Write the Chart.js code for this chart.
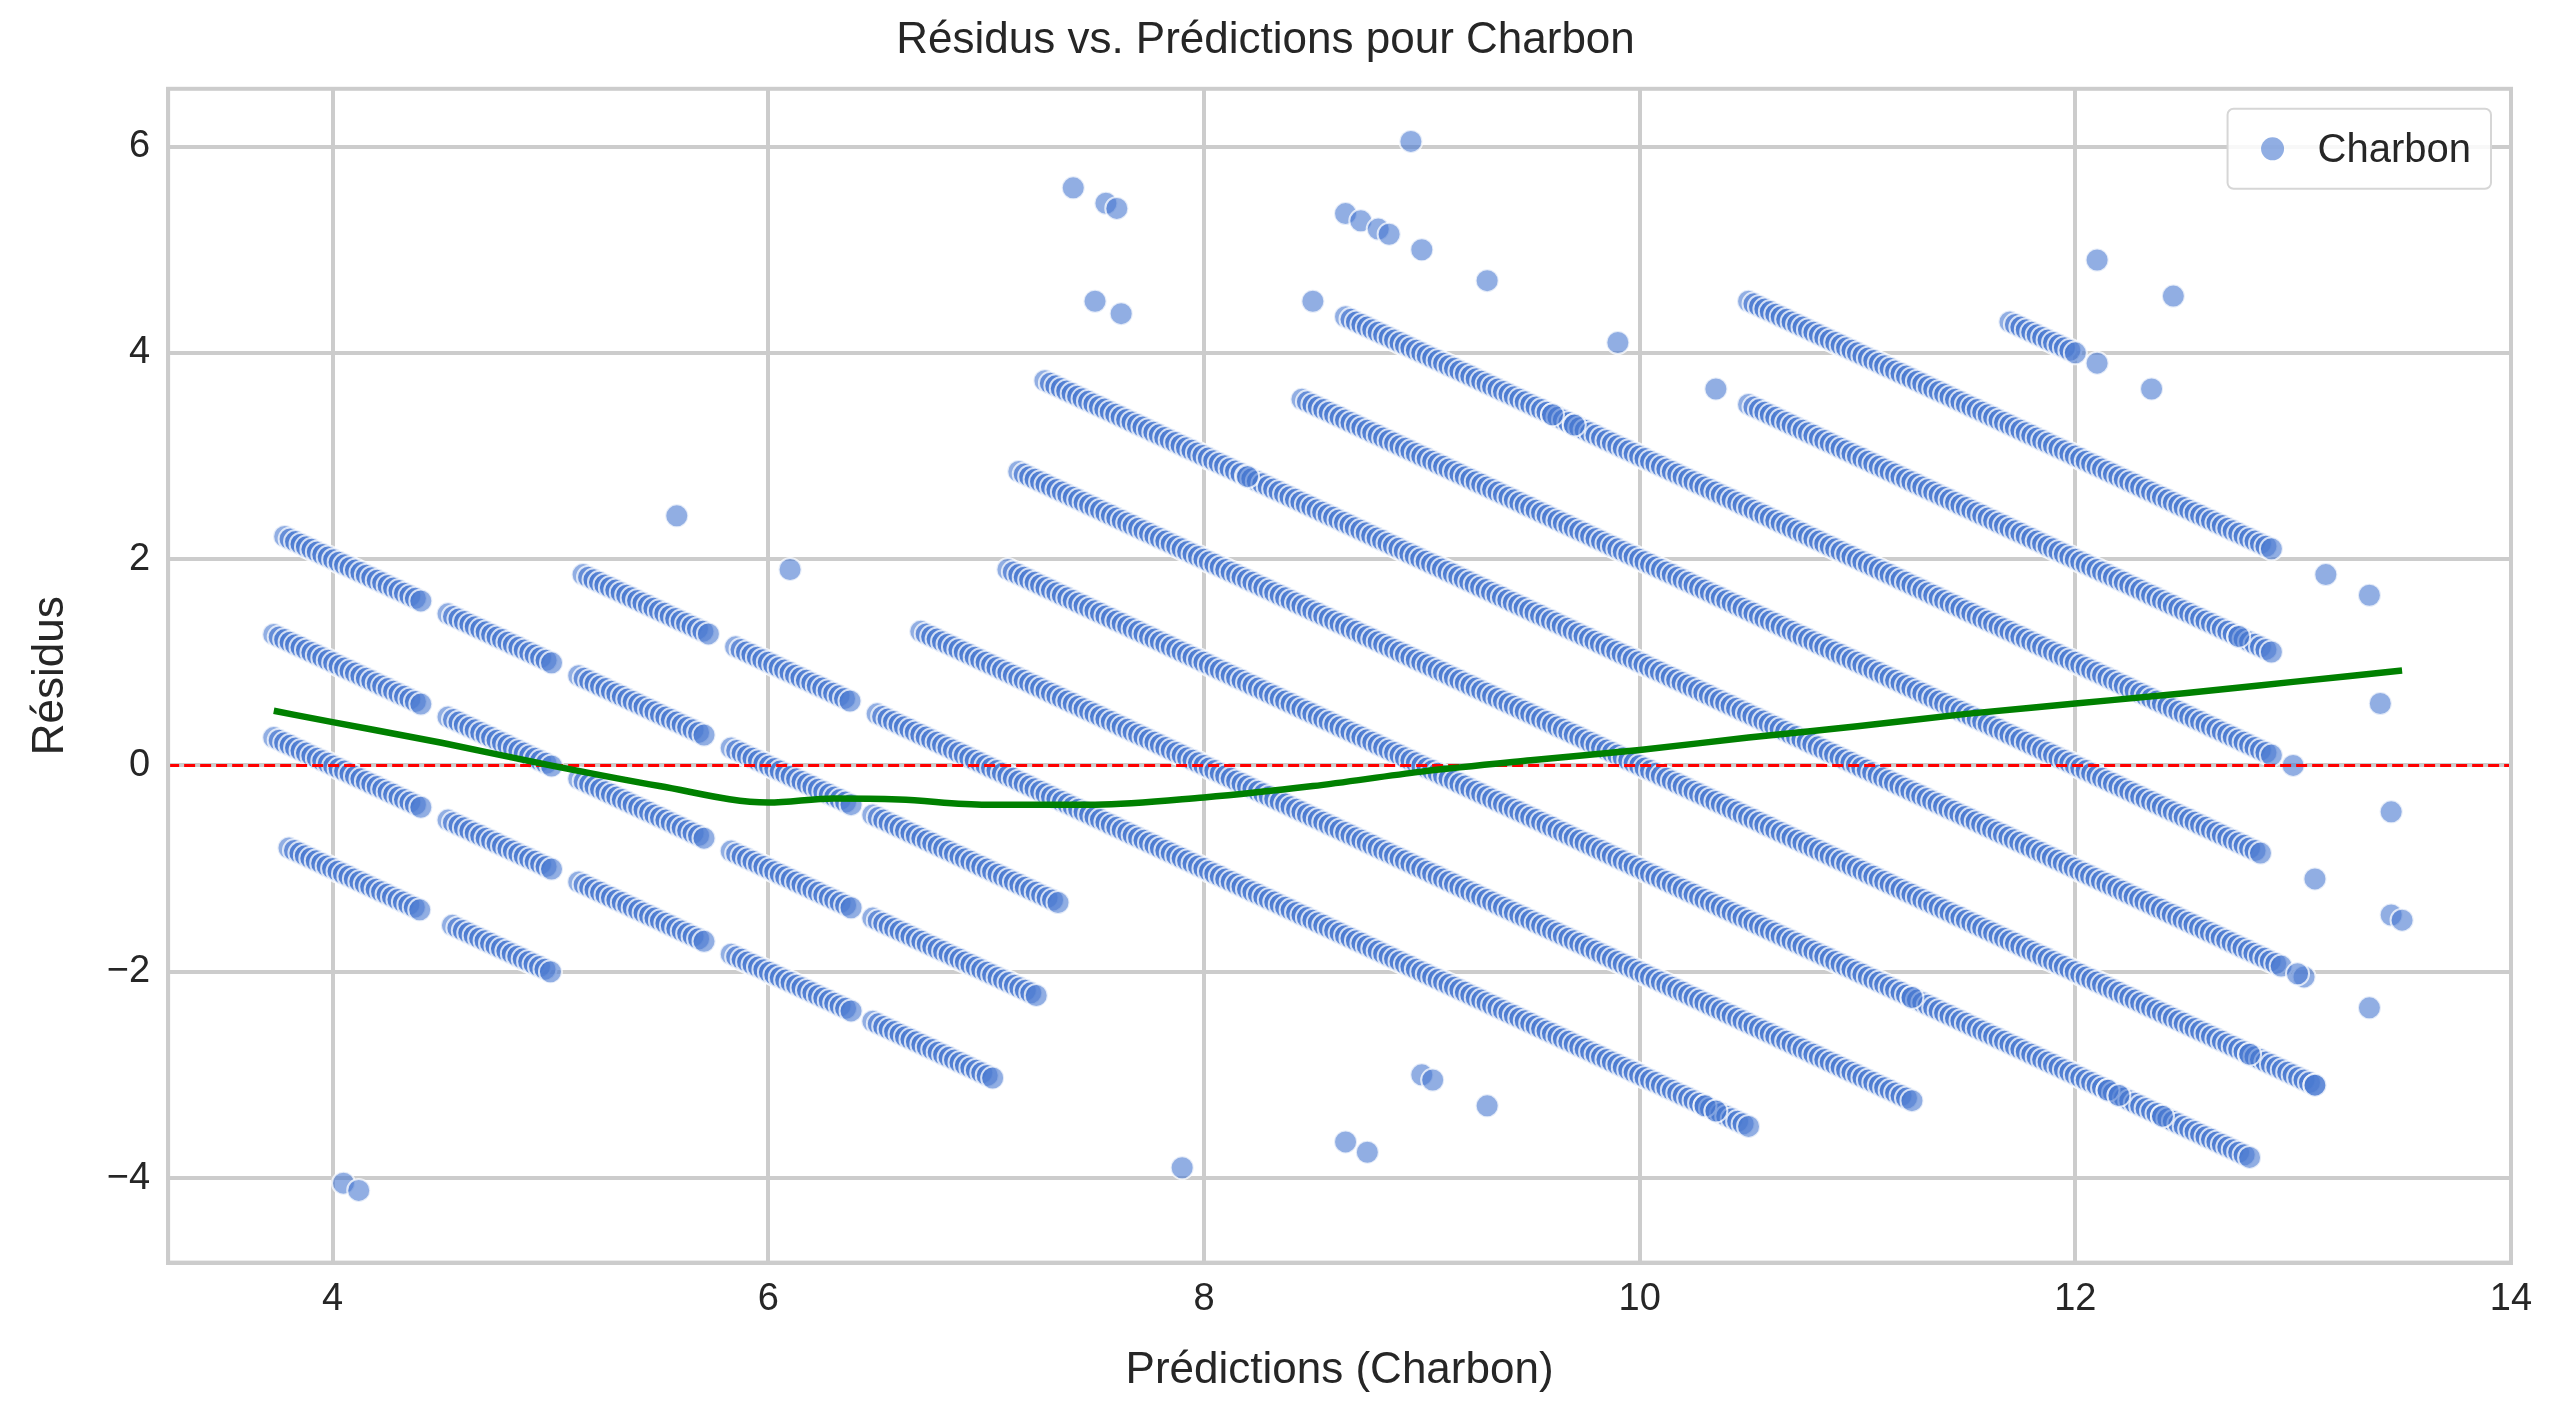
<!DOCTYPE html>
<html>
<head>
<meta charset="utf-8">
<script src="https://cdn.jsdelivr.net/npm/chart.js@4"></script>
<style>
  html, body { margin: 0; padding: 0; background: #fff; }
  #wrap { width: 2559px; height: 1423px; }
</style>
</head>
<body>
<div id="wrap"><canvas id="myChart" width="2559" height="1423"></canvas></div>
<script>
'use strict';
// each diagonal band = one observed value; residual = observed - prediction
// [observed, prediction from, prediction to]
let bandObserved = [3, 3, 4, 5, 6, 7, 8, 9, 10, 11, 12, 13, 14, 15, 16];
let bandFrom     = [3.80, 4.55, 3.73, 3.73, 3.78, 5.15, 6.70, 7.10, 7.15, 7.27, 8.45, 8.65, 10.50, 10.50, 11.70];
let bandTo       = [4.42, 5.00, 7.05, 7.25, 7.35, 10.50, 11.25, 12.80, 13.10, 12.95, 12.85, 12.90, 12.90, 12.90, 12.00];
// cluster gaps along the prediction axis
let gapFrom = [4.43, 5.02, 5.73, 6.40];
let gapTo   = [4.53, 5.13, 5.83, 6.48];
// isolated points: observed value, prediction
let loneObserved = [0, 0, 4, 8, 8, 5, 5, 6, 6, 6, 7, 7, 9, 9, 9, 9, 10, 10, 11, 11, 12, 12, 12, 12, 12, 13, 13, 13, 13, 13, 13, 13, 14, 14, 14, 14, 14, 14, 14, 14, 14, 15, 15, 15, 16, 16, 17, 17, 11, 13, 14, 11];
let lonePred     = [4.05, 4.12, 7.90, 5.58, 6.10, 8.65, 8.75, 9.00, 9.05, 9.30, 10.30, 10.35, 11.25, 12.15, 12.20, 12.40, 12.80, 13.10, 13.05, 13.35, 13.10, 13.45, 13.50, 7.50, 7.62, 7.40, 7.55, 7.60, 8.50, 13.00, 9.60, 9.70, 8.65, 8.72, 8.80, 8.85, 9.00, 9.30, 9.90, 10.35, 13.40, 8.95, 13.15, 13.35, 12.10, 12.35, 12.10, 12.45, 8.20, 13.45, 12.75, 13.02];
// lowess trend
let trendX = [3.73, 4.0, 4.5, 5.0, 5.5, 6.0, 6.3, 6.6, 7.0, 7.5, 8.0, 8.5, 9.0, 9.5, 10.0, 10.5, 11.0, 11.5, 12.0, 12.5, 13.0, 13.5];
let trendY = [0.53, 0.42, 0.22, 0.0, -0.2, -0.36, -0.32, -0.33, -0.38, -0.38, -0.31, -0.2, -0.06, 0.05, 0.15, 0.27, 0.38, 0.5, 0.6, 0.7, 0.81, 0.92];

let points = [];
function inGap(x) {
  for (let g = 0; g < gapFrom.length; g++) {
    if (x > gapFrom[g] && x < gapTo[g]) return true;
  }
  return false;
}
for (let i = 0; i < bandObserved.length; i++) {
  for (let p = bandFrom[i]; p <= bandTo[i] + 1e-9; p += 0.025) {
    if (inGap(p)) continue;
    points.push({x: p, y: bandObserved[i] - p});
  }
}
for (let i = 0; i < loneObserved.length; i++) {
  points.push({x: lonePred[i], y: loneObserved[i] - lonePred[i]});
}
let trend = trendX.map((x, i) => ({x: x, y: trendY[i]}));

let xMin = 3.245, xMax = 14, yMin = -4.82, yMax = 6.56;
let font = 'Arial, "Liberation Sans", sans-serif';
let minus = v => String(v).replace('-', '\u2212');
let dotFill = 'rgba(72, 120, 208, 0.6)';

let ctx = document.getElementById('myChart').getContext('2d');
let myChart = new Chart(ctx, {
  type: 'scatter',
  data: {
    datasets: [{
      label: 'Charbon',
      data: points,
      backgroundColor: dotFill,
      borderColor: 'rgba(255, 255, 255, 0.75)',
      borderWidth: 2,
      pointRadius: 11.5,
      order: 3
    }, {
      label: 'trend',
      type: 'line',
      data: trend,
      borderColor: '#008000',
      borderWidth: 6.5,
      pointRadius: 0,
      cubicInterpolationMode: 'monotone',
      order: 1
    }, {
      label: 'zero',
      type: 'line',
      data: [{x: xMin, y: 0}, {x: xMax, y: 0}],
      borderColor: '#ff0000',
      borderWidth: 3,
      borderDash: [11, 5],
      pointRadius: 0,
      order: 2
    }]
  },
  options: {
    responsive: false,
    animation: false,
    layout: { padding: { left: 20, right: 48, top: 10, bottom: 22 } },
    plugins: {
      title: { display: true, text: 'Résidus vs. Prédictions pour Charbon', color: '#262626',
               font: { family: font, size: 44, weight: 'normal' }, padding: { top: 4, bottom: 22 } },
      legend: { display: false },
      tooltip: { enabled: false }
    },
    scales: {
      x: {
        type: 'linear', min: xMin, max: xMax,
        afterBuildTicks: axis => { axis.ticks = [4, 6, 8, 10, 12, 14].map(v => ({value: v})); },
        ticks: { color: '#262626', font: { family: font, size: 38 }, padding: 14, callback: minus },
        grid: { color: '#cccccc', lineWidth: 4, drawTicks: false },
        border: { color: '#cccccc', width: 4 },
        title: { display: true, text: 'Prédictions (Charbon)', color: '#262626',
                 font: { family: font, size: 44 }, padding: { top: 8 } }
      },
      y: {
        type: 'linear', min: yMin, max: yMax,
        afterBuildTicks: axis => { axis.ticks = [-4, -2, 0, 2, 4, 6].map(v => ({value: v})); },
        ticks: { color: '#262626', font: { family: font, size: 38 }, padding: 18, callback: minus },
        grid: { color: '#cccccc', lineWidth: 4, drawTicks: false },
        border: { color: '#cccccc', width: 4 },
        title: { display: true, text: 'Résidus', color: '#262626',
                 font: { family: font, size: 44 }, padding: { bottom: 12 } }
      }
    }
  },
  plugins: [{
    id: 'frameAndLegend',
    afterDraw(chart) {
      let a = chart.chartArea, c = chart.ctx;
      c.save();
      c.strokeStyle = '#cccccc';
      c.lineWidth = 4;
      c.strokeRect(a.left, a.top, a.right - a.left, a.bottom - a.top);
      // legend box, top right inside the plot
      let label = chart.data.datasets[0].label;
      c.font = '40px ' + font;
      let w = c.measureText(label).width + 110, h = 80;
      let lx = a.right - w - 20, ly = a.top + 20;
      c.fillStyle = 'rgba(255,255,255,0.85)';
      c.strokeStyle = '#d6d6d6';
      c.lineWidth = 2;
      c.beginPath();
      c.roundRect(lx, ly, w, h, 6);
      c.fill();
      c.stroke();
      c.fillStyle = dotFill;
      c.beginPath();
      c.arc(lx + 45, ly + h / 2, 11.5, 0, Math.PI * 2);
      c.fill();
      c.fillStyle = '#262626';
      c.textBaseline = 'middle';
      c.fillText(label, lx + 90, ly + h / 2 + 2);
      c.restore();
    }
  }]
});
</script>
</body>
</html>
